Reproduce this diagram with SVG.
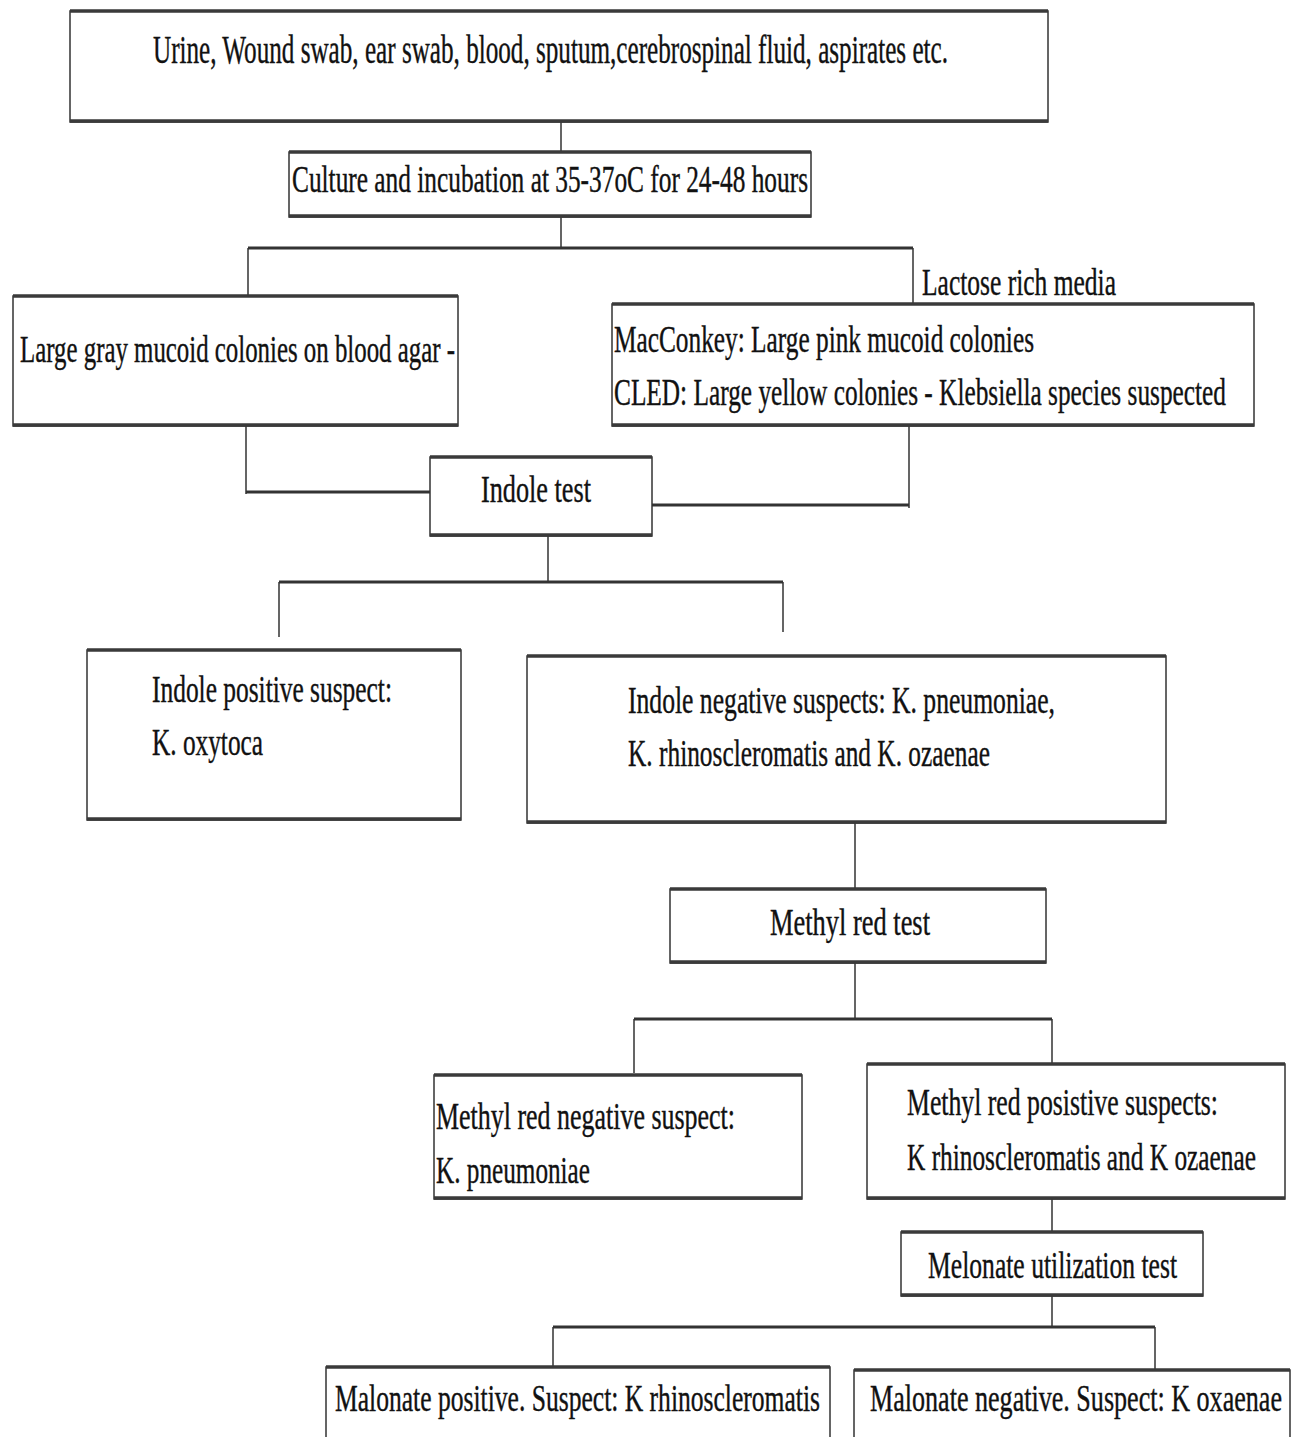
<svg xmlns="http://www.w3.org/2000/svg" width="1292" height="1437" viewBox="0 0 1292 1437">
<style>
.bx{fill:#fff;stroke:#333;stroke-width:1.5}
.hz{stroke:#3a3a3a;stroke-width:3.5;fill:none}
.c{fill:none;stroke:#333}
.h{stroke-width:3.2}
.v{stroke-width:1.5}
text{font-family:"Liberation Serif","Times New Roman",serif;font-size:38px;fill:#111;stroke:#111;stroke-width:0.4}
</style>
<rect width="1292" height="1437" fill="#fff"/>
<g id="connectors">
<path class="c v" d="M561 122V151M561 217V248M248 248V296M913 248V305"/>
<path class="c h" d="M248 248H913"/>
<path class="c v" d="M246 426V494M909 426V508"/>
<path class="c h" d="M246 492H430M652 505H909"/>
<path class="c v" d="M548 536V582M279 582V637M783 582V632"/>
<path class="c h" d="M279 582H783"/>
<path class="c v" d="M855 823V889M855 963V1019M634 1019V1073M1052 1019V1064"/>
<path class="c h" d="M634 1019H1052"/>
<path class="c v" d="M1052 1199V1232M1052 1296V1327M553 1327V1367M1155 1327V1370"/>
<path class="c h" d="M553 1327H1155"/>
</g>
<g id="n1"><rect class="bx" x="70" y="11" width="978" height="111"/><path class="hz" d="M70 11H1048M70 121H1048"/>
<text x="153" y="63" textLength="795" lengthAdjust="spacingAndGlyphs" style="font-size:40px">Urine, Wound swab, ear swab, blood, sputum,cerebrospinal fluid, aspirates etc.</text></g>
<g id="n2"><rect class="bx" x="289" y="152" width="522" height="65"/><path class="hz" d="M289 152H811M289 216H811"/>
<text x="292" y="192" textLength="516" lengthAdjust="spacingAndGlyphs">Culture and incubation at 35-37oC for 24-48 hours</text></g>
<g id="lbl"><text x="922" y="295" textLength="194" lengthAdjust="spacingAndGlyphs">Lactose rich media</text></g>
<g id="n3"><rect class="bx" x="13" y="296" width="445" height="130"/><path class="hz" d="M13 296H458M13 425H458"/>
<text x="20" y="362" textLength="435" lengthAdjust="spacingAndGlyphs">Large gray mucoid colonies on blood agar -</text></g>
<g id="n4"><rect class="bx" x="612" y="304" width="642" height="122"/><path class="hz" d="M612 304H1254M612 425H1254"/>
<text x="614" y="352" textLength="420" lengthAdjust="spacingAndGlyphs">MacConkey: Large pink mucoid colonies</text>
<text x="614" y="405" textLength="612" lengthAdjust="spacingAndGlyphs">CLED: Large yellow colonies - Klebsiella species suspected</text></g>
<g id="n5"><rect class="bx" x="430" y="457" width="222" height="79"/><path class="hz" d="M430 457H652M430 535H652"/>
<text x="481" y="502" textLength="110" lengthAdjust="spacingAndGlyphs">Indole test</text></g>
<g id="n6"><rect class="bx" x="87" y="650" width="374" height="170"/><path class="hz" d="M87 650H461M87 819H461"/>
<text x="152" y="702" textLength="240" lengthAdjust="spacingAndGlyphs">Indole positive suspect:</text>
<text x="152" y="755" textLength="111" lengthAdjust="spacingAndGlyphs">K. oxytoca</text></g>
<g id="n7"><rect class="bx" x="527" y="656" width="639" height="167"/><path class="hz" d="M527 656H1166M527 822H1166"/>
<text x="628" y="713" textLength="427" lengthAdjust="spacingAndGlyphs">Indole negative suspects: K. pneumoniae,</text>
<text x="628" y="766" textLength="362" lengthAdjust="spacingAndGlyphs">K. rhinoscleromatis and K. ozaenae</text></g>
<g id="n8"><rect class="bx" x="670" y="889" width="376" height="74"/><path class="hz" d="M670 889H1046M670 962H1046"/>
<text x="770" y="935" textLength="160" lengthAdjust="spacingAndGlyphs">Methyl red test</text></g>
<g id="n9"><rect class="bx" x="434" y="1075" width="368" height="124"/><path class="hz" d="M434 1075H802M434 1198H802"/>
<text x="436" y="1129" textLength="299" lengthAdjust="spacingAndGlyphs">Methyl red negative suspect:</text>
<text x="436" y="1183" textLength="154" lengthAdjust="spacingAndGlyphs">K. pneumoniae</text></g>
<g id="n10"><rect class="bx" x="867" y="1064" width="418" height="135"/><path class="hz" d="M867 1064H1285M867 1198H1285"/>
<text x="907" y="1115" textLength="311" lengthAdjust="spacingAndGlyphs">Methyl red posistive suspects:</text>
<text x="907" y="1170" textLength="349" lengthAdjust="spacingAndGlyphs">K rhinoscleromatis and K ozaenae</text></g>
<g id="n11"><rect class="bx" x="901" y="1232" width="302" height="64"/><path class="hz" d="M901 1232H1203M901 1295H1203"/>
<text x="928" y="1278" textLength="249" lengthAdjust="spacingAndGlyphs">Melonate utilization test</text></g>
<g id="n12"><rect class="bx" x="326" y="1367" width="504" height="80"/><path class="hz" d="M326 1367H830"/>
<text x="335" y="1411" textLength="485" lengthAdjust="spacingAndGlyphs">Malonate positive. Suspect: K rhinoscleromatis</text></g>
<g id="n13"><rect class="bx" x="854" y="1370" width="436" height="80"/><path class="hz" d="M854 1370H1290"/>
<text x="870" y="1411" textLength="412" lengthAdjust="spacingAndGlyphs">Malonate negative. Suspect: K oxaenae</text></g>
</svg>
